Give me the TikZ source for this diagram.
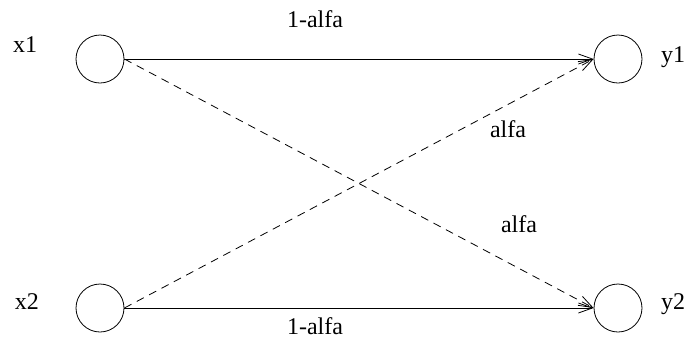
\documentclass[tikz,border=0pt]{standalone}
\usepackage{fontspec}
\setmainfont{Liberation Serif}
\usepackage{tikz}
\usetikzlibrary{positioning,arrows.meta}

\begin{document}
\begin{tikzpicture}[x=0.5pt,y=-0.5pt,
    state/.style={draw, circle, minimum size=24pt, inner sep=0pt},
    lbl/.style={font=\fontsize{12}{14}\selectfont, inner sep=0pt},
    flow/.style={-{Straight Barb[length=7pt,width=5pt]}},
    cross/.style={flow, dash pattern=on 4pt off 3pt}]
    \useasboundingbox (0,0) rectangle (687,345);

    % states
    \node[state] (x1) at (100,59) {};
    \node[state] (y1) at (618,59) {};
    \node[state] (x2) at (100,308) {};
    \node[state] (y2) at (618,308) {};

    % state names
    \node[lbl] (nx1) at (25,45) {x1};
    \node[lbl] (ny1) at (673,57) {y1};
    \node[lbl] (nx2) at (27,302) {x2};
    \node[lbl] (ny2) at (673,304) {y2};

    % transitions
    \draw[flow]  (x1.east) -- (y1.west);
    \draw[flow]  (x2.east) -- (y2.west);
    \draw[cross] (x1.east) -- (y2.west);
    \draw[cross] (x2.east) -- (y1.west);

    % probabilities
    \node[lbl] (p11) at (315,19)  {1-alfa};
    \node[lbl] (p22) at (315,326) {1-alfa};
    \node[lbl] (p21) at (508,129) {alfa};
    \node[lbl] (p12) at (519,224) {alfa};
\end{tikzpicture}
\end{document}
